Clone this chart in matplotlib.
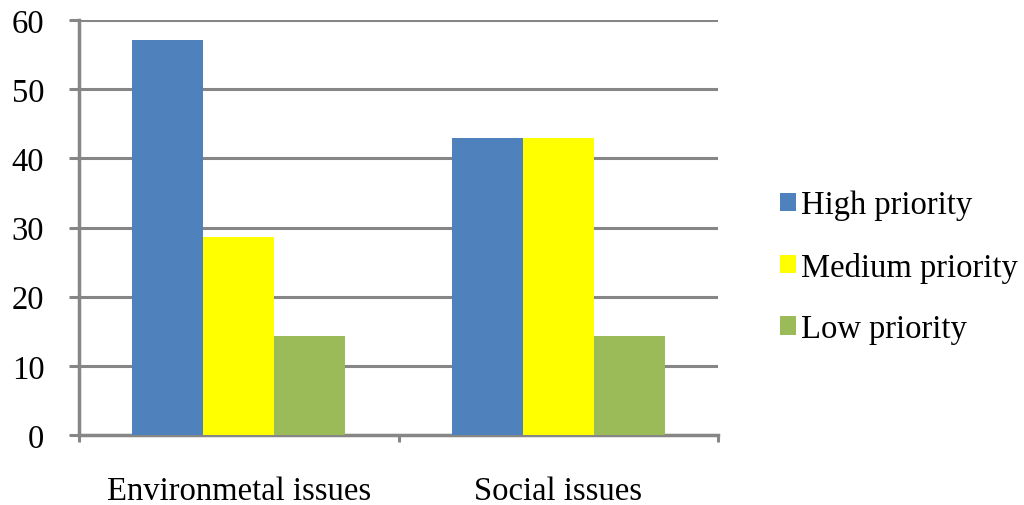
import matplotlib
matplotlib.use("Agg")
import matplotlib.pyplot as plt
from matplotlib.patches import Patch
import numpy as np

categories = ["Environmetal issues", "Social issues"]
series_names = ["High priority", "Medium priority", "Low priority"]
high = [57.1, 42.9]
medium = [28.6, 42.9]
low = [14.3, 14.3]
colors = ["#4F81BD", "#FFFF00", "#9BBB59"]
yticks = [0, 10, 20, 30, 40, 50, 60]

plt.rcParams['font.family'] = ['Liberation Serif', 'DejaVu Serif']
FS = 23.5

fig = plt.figure(figsize=(10.24, 5.06), dpi=100)
ax = fig.add_axes([79/1024, 1-436/506, (718-79)/1024, (436-21)/506])

x = np.arange(len(categories)) + 0.5
w = 2/9
for i, (vals, c) in enumerate(zip([high, medium, low], colors)):
    ax.bar(x + (i-1)*w, vals, width=w, color=c, edgecolor='none', zorder=3)

gc = "#868686"
ax.set_xlim(0, 2)
ax.set_ylim(0, 60)
ax.set_yticks(yticks)
ax.set_yticklabels([str(t) for t in yticks], fontsize=FS)
ax.yaxis.grid(True, color=gc, linewidth=2.2, zorder=0)
ax.set_axisbelow(True)
for s in ['top', 'right']:
    ax.spines[s].set_visible(False)
for s in ['left', 'bottom']:
    ax.spines[s].set_color(gc)
    ax.spines[s].set_linewidth(2.5)
ax.tick_params(axis='y', length=7, width=2.2, color=gc, pad=18)
ax.set_xticks([0, 1, 2])
ax.set_xticklabels([])
ax.tick_params(axis='x', length=5, width=2.2, color=gc)
ax.set_xticks(x, minor=True)
ax.set_xticklabels(categories, minor=True, fontsize=FS)
ax.tick_params(axis='x', which='minor', length=0, pad=29)

handles = [Patch(facecolor=c, edgecolor='none') for c in colors]
fig.legend(handles, series_names, loc='center left', bbox_to_anchor=(767/1024, 1-268/506),
           frameon=False, fontsize=FS, handlelength=0.5, handleheight=0.5,
           handletextpad=0.15, labelspacing=0.95, borderaxespad=0)

fig.savefig("out.png", dpi=100)
